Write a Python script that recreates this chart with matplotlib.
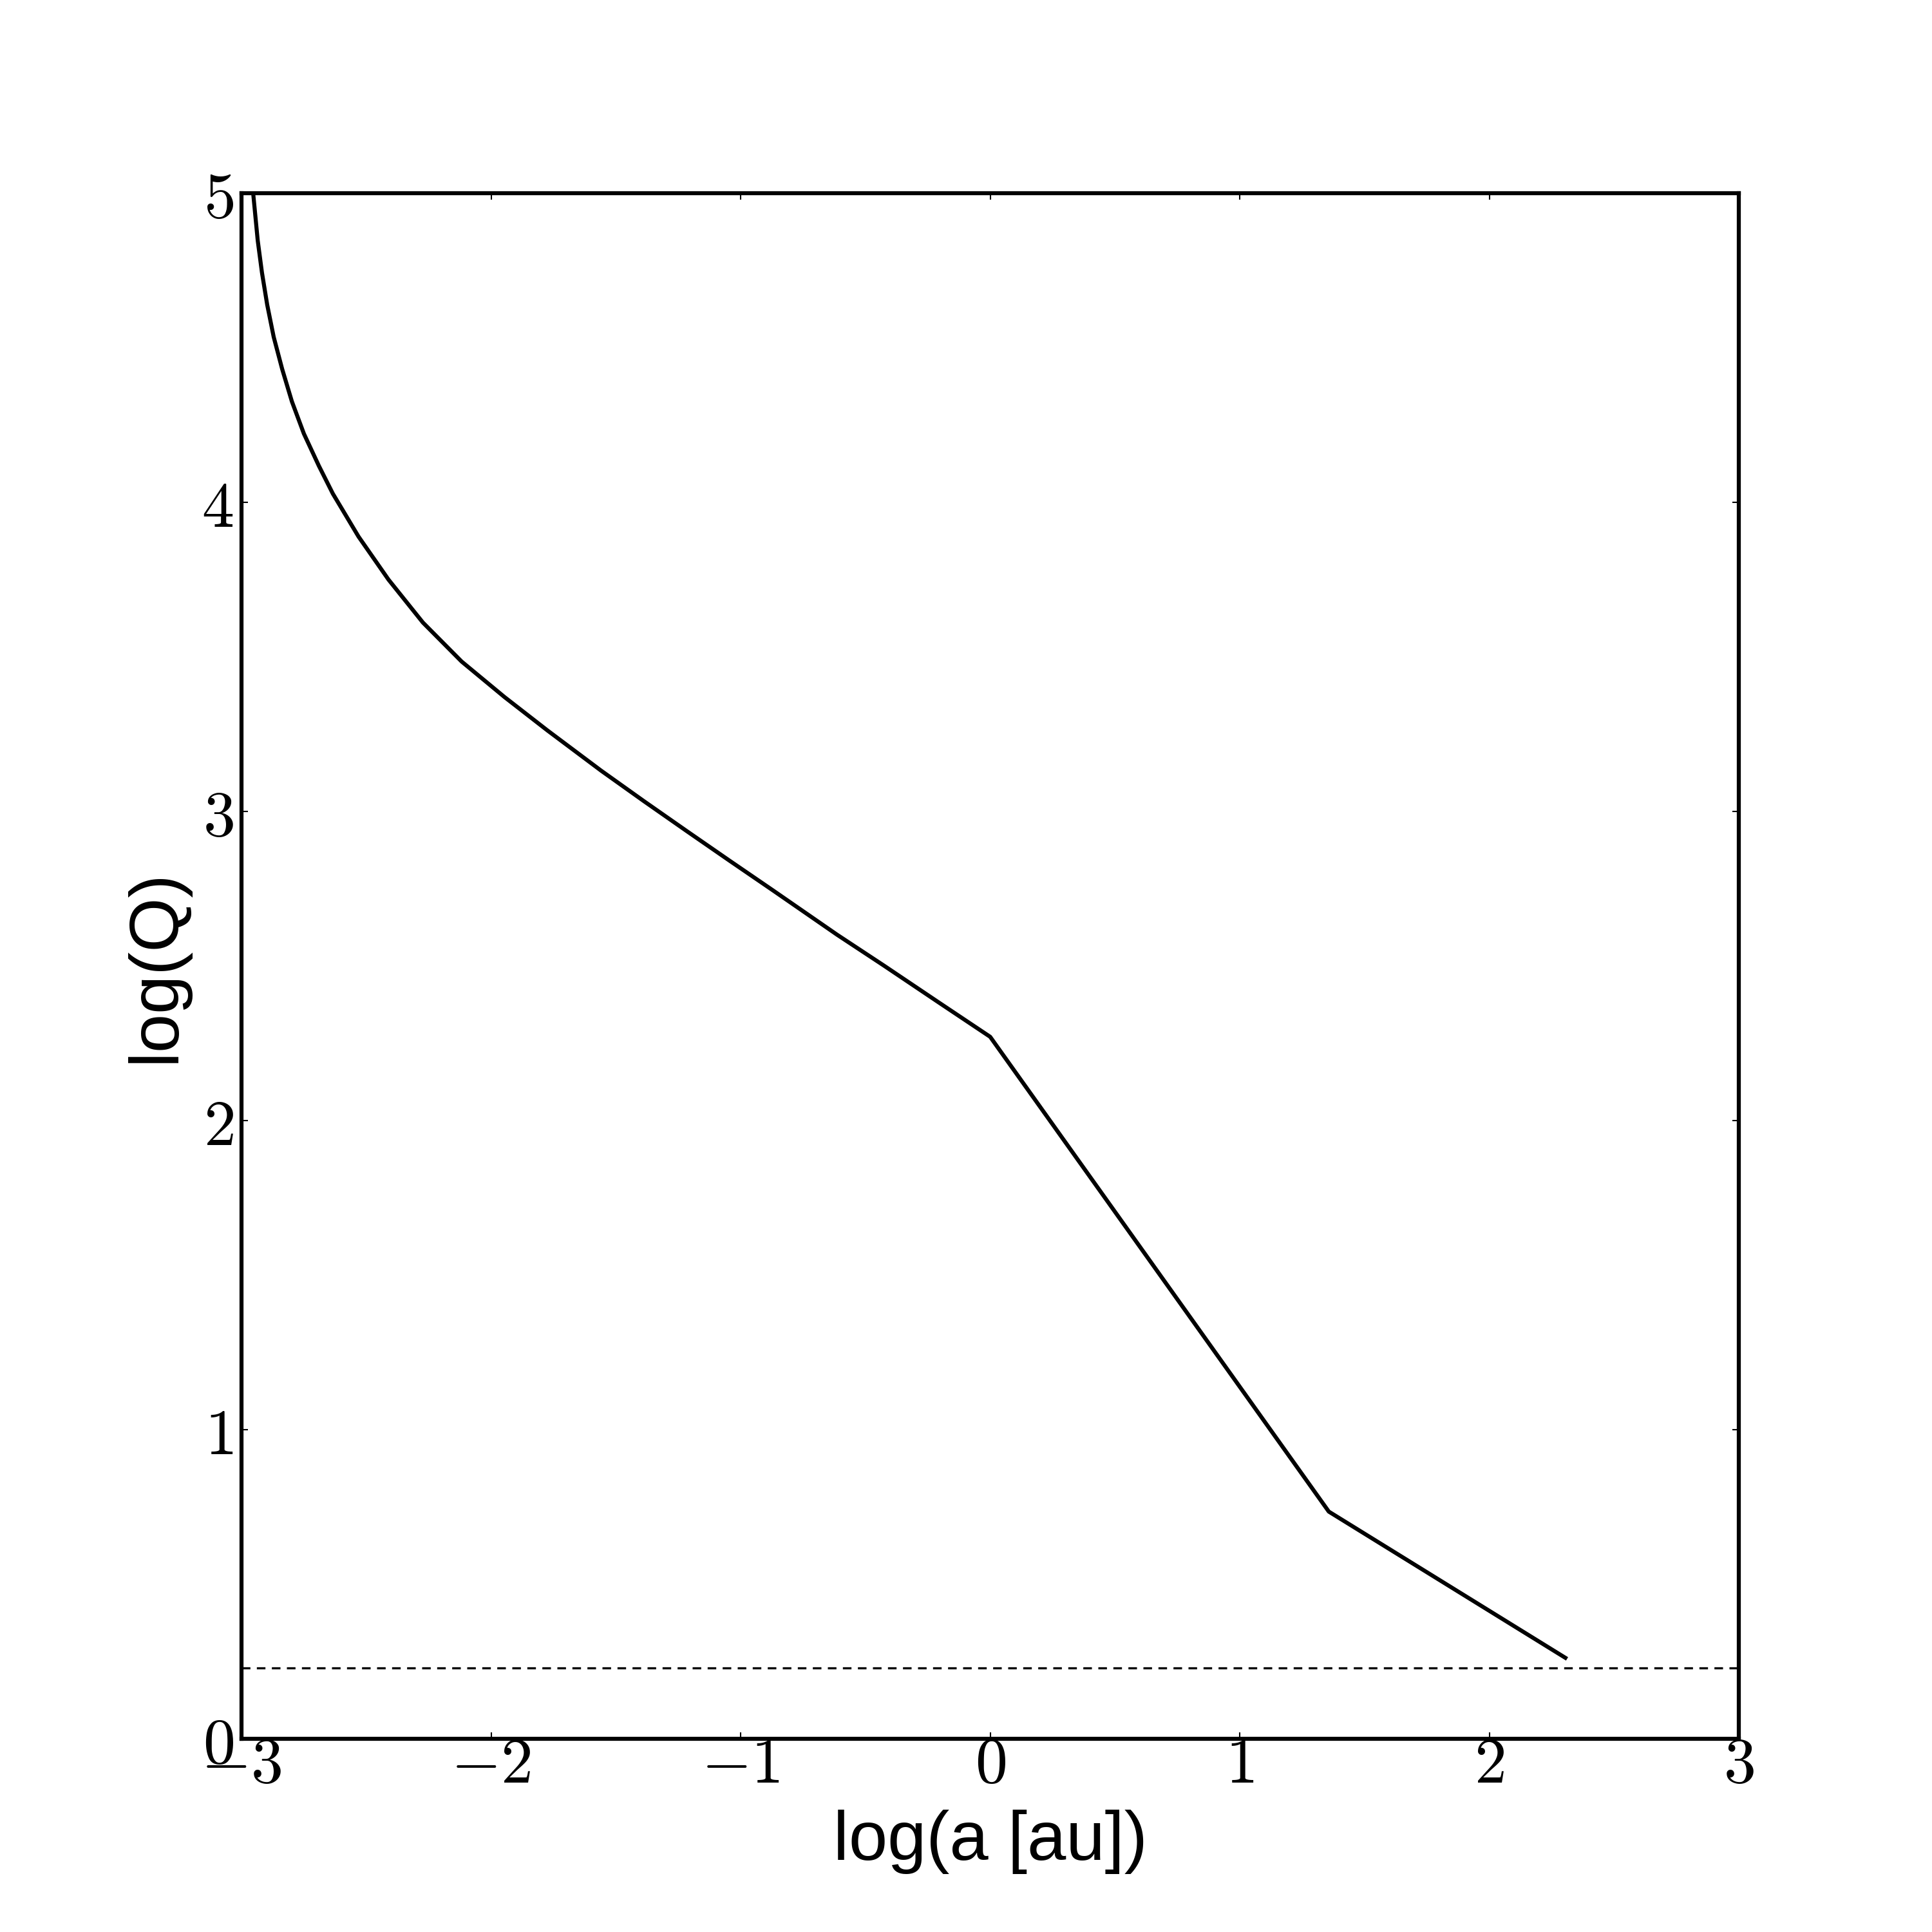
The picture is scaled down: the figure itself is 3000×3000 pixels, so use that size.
import matplotlib
matplotlib.use("Agg")
import matplotlib.pyplot as plt
from matplotlib.ticker import FuncFormatter, MultipleLocator

# valores
log_a = [-2.953, -2.935, -2.918, -2.897, -2.871, -2.837, -2.798, -2.750, -2.690,
         -2.634, -2.531, -2.411, -2.273, -2.118, -1.946, -1.774, -1.559, -1.387,
         -1.215, -1.043, -0.871, -0.613, -0.427, -0.204, 0.0, 1.357, 2.305]
log_q = [4.998, 4.847, 4.743, 4.639, 4.535, 4.431, 4.326, 4.222, 4.118,
         4.028, 3.889, 3.750, 3.611, 3.485, 3.370, 3.262, 3.132, 3.033,
         2.936, 2.840, 2.745, 2.601, 2.502, 2.381, 2.271, 0.735, 0.262]
q_limite = 0.23

plt.rcParams['mathtext.fontset'] = 'cm'
plt.rcParams['lines.scale_dashes'] = False

fig = plt.figure(figsize=(10, 10), dpi=300)
ax = fig.add_subplot(111)
fig.subplots_adjust(left=0.125, right=0.9, bottom=0.1, top=0.9)

ax.plot(log_a, log_q, color='black', lw=1.5)
ax.axhline(q_limite, color='black', lw=0.8, dashes=(3.2, 2.4))

ax.set_xlim(-3, 3)
ax.set_ylim(0, 5)
ax.xaxis.set_major_locator(MultipleLocator(1))
ax.yaxis.set_major_locator(MultipleLocator(1))
fmt = FuncFormatter(lambda v, pos: r'$%d$' % round(v))
ax.xaxis.set_major_formatter(fmt)
ax.yaxis.set_major_formatter(fmt)
ax.tick_params(direction='in', length=2.5, width=0.5, top=True, right=True,
               labelsize=24, pad=3)
ax.tick_params(axis='x', pad=-2)

for s in ax.spines.values():
    s.set_linewidth(1.5)

ax.set_xlabel('log(a [au])', family='Liberation Sans', fontsize=26, labelpad=5)
ax.set_ylabel('log(Q)', family='Liberation Sans', fontsize=26, labelpad=5)

plt.savefig('out.png', dpi=300)
